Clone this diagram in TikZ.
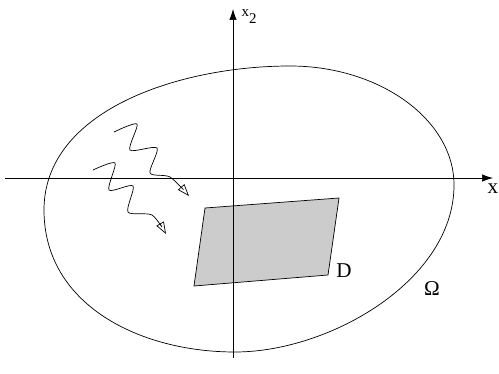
\documentclass[tikz,border=0pt]{standalone}
\usepackage{fontspec}
\setmainfont{Liberation Serif}
\usetikzlibrary{arrows.meta}
\begin{document}
\begin{tikzpicture}
[x=0.02cm, y=-0.02cm, font=\fontsize{12}{14}\selectfont]
\tikzstyle{axis}=[thin, -{Latex[length=2.2mm, width=1.5mm]}]
\tikzstyle{wave}=[thin, -{Triangle[open, length=2.4mm, width=1.7mm]}]
\tikzstyle{lbl}=[inner sep=0pt]
\useasboundingbox (0,0) rectangle (499,374);

% domain Omega
\draw[thin] (290,66) .. controls (380,66) and (454,120) .. (454,185)
  .. controls (454,280) and (330,352) .. (235,352)
  .. controls (140,352) and (44,305) .. (44,210)
  .. controls (44,110) and (180,66) .. cycle;

% obstacle D
\coordinate (D1) at (205,208);
\coordinate (D2) at (339,198);
\coordinate (D3) at (328,275);
\coordinate (D4) at (194,286);
\draw[thin, fill=black!20] (D1)--(D2)--(D3)--(D4)--cycle;

% axes
\coordinate (Xl) at (5,178);
\coordinate (Xr) at (493,178);
\coordinate (Yb) at (233,358);
\coordinate (Yt) at (233,9);
\draw[axis] (Xl)--(Xr);
\draw[axis] (Yb)--(Yt);

% incident waves
\coordinate (W1a) at (114,132);
\coordinate (W1b) at (189,196);
\coordinate (W2a) at (93,170);
\coordinate (W2b) at (166,234);
\draw[wave] plot[smooth, tension=0.45] coordinates {(W1a) (137,124) (130,150) (157,148) (150,173) (170,177) (W1b)};
\draw[wave] plot[smooth, tension=0.45] coordinates {(W2a) (115,163) (109,190) (133,186) (128,212) (152,215) (W2b)};

% labels
\node[lbl] (xlab) at (493,189) {x};
\node[lbl, font=\fontsize{8.5}{10}\selectfont] (x2lab) at (249,17) {x\raisebox{-4pt}{2}};
\node[lbl] (Dlab) at (344,271) {D};
\node[lbl] (Olab) at (432,289) {Ω};
\end{tikzpicture}
\end{document}
